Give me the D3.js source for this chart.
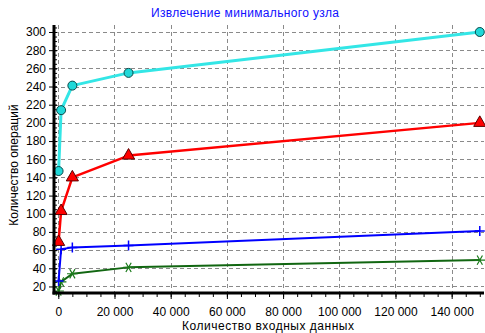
<!DOCTYPE html>
<html><head><meta charset="utf-8">
<script src="https://cdn.jsdelivr.net/npm/d3@7"></script>
<style>
html,body{margin:0;padding:0;background:#fff;}
text{font-family:"Liberation Sans",Arial,sans-serif;}
</style></head>
<body><svg id="c" width="485" height="333"></svg>
<script>
const title = "Извлечение минимального узла";
const xTitle = "Количество входных данных";
const yTitle = "Количество операций";
const sizes = [100, 1000, 5000, 25000, 150000];
const cyanSeries = [147, 214, 241, 255, 300];
const redSeries = [69, 103, 140, 164, 200];
const blueSeries = [26, 61, 63, 65, 81];
const greenSeries = [15, 25, 34, 41, 49];
const xTicks = [0, 20000, 40000, 60000, 80000, 100000, 120000, 140000];
const yTicks = [20, 40, 60, 80, 100, 120, 140, 160, 180, 200, 220, 240, 260, 280, 300];

const svg = d3.select("#c");
const L = 54, R = 484, T = 25, B = 293;
const x = d3.scaleLinear().domain([-1530, 151500]).range([L, R]);
const y = d3.scaleLinear().domain([12.8, 307.7]).range([B, T]);
const loc = d3.formatLocale({decimal: ",", thousands: " ", grouping: [3], currency: ["", ""]});
const fmt = loc.format(",d");

// gridlines
const grid = svg.append("g");
grid.selectAll("line.v").data(xTicks).join("line")
  .attr("x1", d => Math.round(x(d)) + 0.5).attr("x2", d => Math.round(x(d)) + 0.5)
  .attr("y1", T).attr("y2", B)
  .attr("stroke", "#8a8a8a").attr("stroke-dasharray", "4,3");
grid.selectAll("line.h").data(yTicks).join("line")
  .attr("y1", d => Math.round(y(d)) + 0.5).attr("y2", d => Math.round(y(d)) + 0.5)
  .attr("x1", L).attr("x2", R)
  .attr("stroke", "#8a8a8a").attr("stroke-dasharray", "4,3");

// minor ticks
const xMinor = d3.range(0, 150001, 5000);
svg.append("g").attr("transform", `translate(0,${B})`)
  .call(d3.axisBottom(x).tickValues(xMinor).tickSize(4).tickFormat(""))
  .call(g => g.select(".domain").remove())
  .call(g => g.selectAll("line").attr("stroke", "#000"));
const yMinor = d3.range(15, 306, 5);
svg.append("g").attr("transform", `translate(${L},0)`)
  .call(d3.axisRight(y).tickValues(yMinor).tickSize(3).tickFormat(""))
  .call(g => g.select(".domain").remove())
  .call(g => g.selectAll("line").attr("stroke", "#000"));

// y axis
svg.append("g").attr("transform", `translate(${L},0)`)
  .call(d3.axisLeft(y).tickValues(yTicks).tickSize(5).tickPadding(3).tickFormat(d3.format("d")))
  .call(g => g.select(".domain").remove())
  .call(g => g.selectAll("line").attr("stroke", "#000").attr("x2", -5).attr("x1", 3))
  .call(g => g.selectAll("text").attr("font-size", 12).attr("fill", "#000")
     .attr("font-family", "'Liberation Sans',Arial,sans-serif"));
// x axis
svg.append("g").attr("transform", `translate(0,${B})`)
  .call(d3.axisBottom(x).tickValues(xTicks).tickSize(6).tickPadding(8).tickFormat(fmt))
  .call(g => g.select(".domain").remove())
  .call(g => g.selectAll("line").attr("stroke", "#000"))
  .call(g => g.selectAll("text").attr("font-size", 12).attr("fill", "#000")
     .attr("font-family", "'Liberation Sans',Arial,sans-serif"));

// series
const series = [
  {vals: greenSeries, color: "#116611", w: 2, sym: "ast"},
  {vals: blueSeries, color: "#0000ff", w: 2, sym: "plus"},
  {vals: redSeries, color: "#ff0000", w: 2.5, sym: "tri"},
  {vals: cyanSeries, color: "#33e6e6", w: 3, sym: "circ"}
];
const line = d3.line().x(d => x(d[0])).y(d => y(d[1]));
series.forEach(s => {
  const pts = sizes.map((sz, i) => [sz, s.vals[i]]);
  svg.append("path").datum(pts).attr("d", line)
    .attr("fill", "none").attr("stroke", s.color).attr("stroke-width", s.w)
    .attr("stroke-linejoin", "round");
  const g = svg.append("g");
  pts.forEach(p => {
    const cx = x(p[0]), cy = y(p[1]);
    if (s.sym === "circ") {
      g.append("circle").attr("cx", cx).attr("cy", cy).attr("r", 4.5)
        .attr("fill", "#20d8d8").attr("stroke", "#0b4a4a").attr("stroke-width", 1);
    } else if (s.sym === "tri") {
      g.append("path").attr("transform", `translate(${cx},${cy})`)
        .attr("d", d3.symbol(d3.symbolTriangle, 64)())
        .attr("fill", "#ff0000").attr("stroke", "#5a0000").attr("stroke-width", 1);
    } else if (s.sym === "plus") {
      g.append("path").attr("transform", `translate(${cx},${cy})`)
        .attr("d", "M-5,0H5M0,-5V5")
        .attr("stroke", "#0000ff").attr("stroke-width", 1.5);
    } else {
      g.append("path").attr("transform", `translate(${cx},${cy}) rotate(90)`)
        .attr("d", d3.symbol(d3.symbolAsterisk, 80)())
        .attr("fill", "none").attr("stroke", "#1a7a1a").attr("stroke-width", 1.2);
    }
  });
});

// axis lines
svg.append("line").attr("x1", L).attr("x2", L).attr("y1", T).attr("y2", B + 1.5)
  .attr("stroke", "#000").attr("stroke-width", 3);
svg.append("line").attr("x1", L - 1.5).attr("x2", R).attr("y1", B).attr("y2", B)
  .attr("stroke", "#000").attr("stroke-width", 3);

// titles
svg.append("text").attr("x", 245).attr("y", 17).attr("text-anchor", "middle")
  .attr("font-size", 12).attr("fill", "#1010ff")
  .attr("textLength", 188).attr("lengthAdjust", "spacing").text(title);
svg.append("text").attr("x", 268).attr("y", 330).attr("text-anchor", "middle")
  .attr("font-size", 12).attr("fill", "#000")
  .attr("textLength", 172).attr("lengthAdjust", "spacing").text(xTitle);
svg.append("text").attr("transform", "translate(18,165) rotate(-90)")
  .attr("text-anchor", "middle").attr("font-size", 12).attr("fill", "#000").text(yTitle);
</script></body></html>
